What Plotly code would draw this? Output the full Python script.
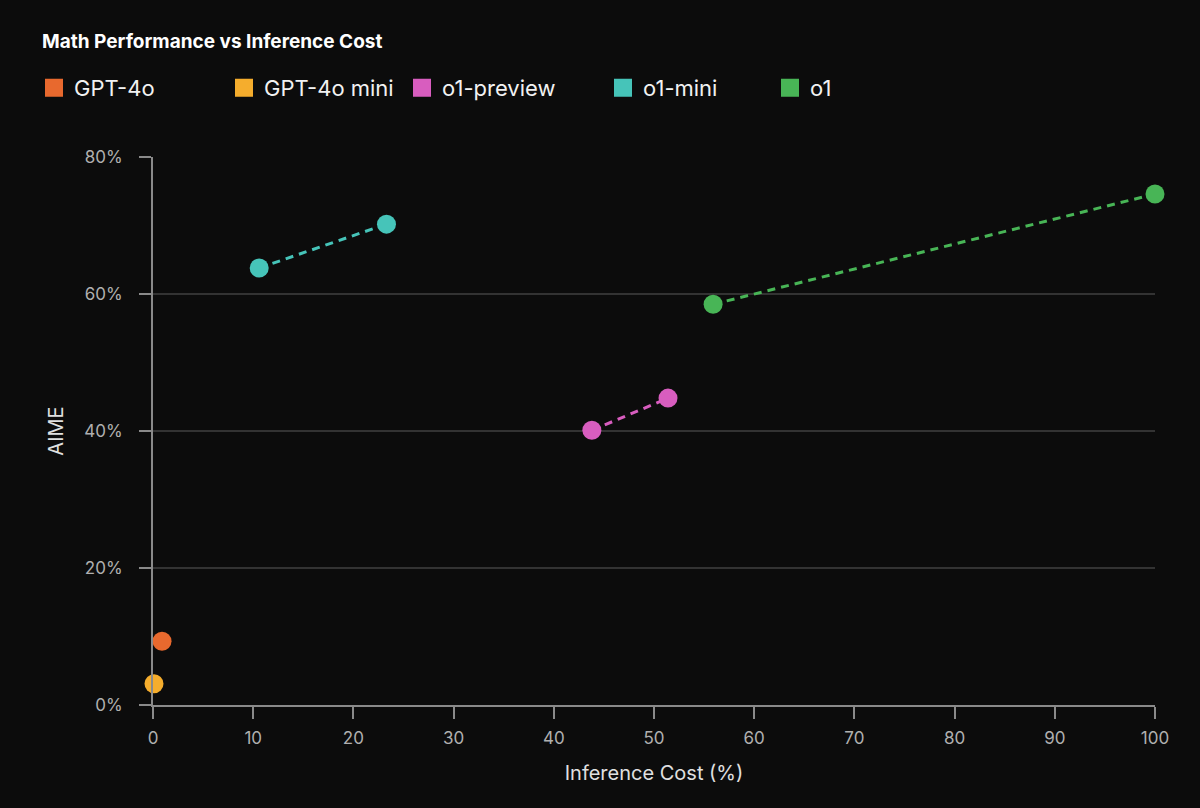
import plotly.graph_objects as go

# Inference cost (%) and AIME score (%) per model
models = ["GPT-4o", "GPT-4o mini", "o1-preview", "o1-mini", "o1"]
colors = ["#E8692E", "#F5AD2D", "#D85DBF", "#46C4B9", "#48B556"]
cost = [[0.9], [0.1], [43.8, 51.4], [10.6, 23.3], [55.9, 100]]
aime = [[9.3], [3.1], [40.1, 44.8], [63.8, 70.2], [58.5, 74.6]]

W, H = 1200, 808
legend_px = [34, 224, 402, 603, 770]  # left edge of each legend entry, in px


def legend_key(i):
    return "legend" if i == 0 else "legend%d" % (i + 1)


fig = go.Figure()

for i, name in enumerate(models):
    fig.add_trace(go.Scatter(
        x=cost[i], y=aime[i], name=name,
        mode="lines+markers",
        line=dict(color=colors[i], width=3, dash="8px,6px"),
        marker=dict(color=colors[i], size=19),
        cliponaxis=False,
        showlegend=False,
    ))
    # square swatch for the legend
    fig.add_trace(go.Scatter(
        x=[None], y=[None], name=name, mode="markers",
        marker=dict(color=colors[i], size=18, symbol="square",
                    line=dict(color=colors[i], width=2)),
        legend=legend_key(i),
    ))

legends = {}
for i in range(len(models)):
    legends[legend_key(i)] = dict(
        x=legend_px[i] / W, y=1 - 88 / H, xref="container", yref="container",
        xanchor="left", yanchor="middle",
        font=dict(size=22, color="#f2f2f2"),
        bgcolor="rgba(0,0,0,0)", itemwidth=30,
        orientation="h",
    )

fig.update_layout(
    width=W, height=H,
    paper_bgcolor="#0c0c0c", plot_bgcolor="#0c0c0c",
    font=dict(family="Inter, Liberation Sans, sans-serif", color="#f2f2f2"),
    title=dict(text="<b>Math Performance vs Inference Cost</b>",
               x=42 / W, y=1 - 41 / H, xref="container", yref="container",
               xanchor="left", yanchor="middle",
               font=dict(size=19, color="#ffffff")),
    margin=dict(l=153, r=45, t=157, b=103),
    **legends,
)

fig.update_xaxes(
    range=[0, 100], dtick=10, tick0=0,
    showgrid=False, zeroline=False,
    showline=True, linecolor="#8a8a8a", linewidth=2,
    ticks="outside", ticklen=12, tickwidth=2, tickcolor="#8a8a8a",
    ticklabelstandoff=5,
    tickfont=dict(size=17, color="#b0b0b0"),
    title=dict(text="Inference Cost (%)", font=dict(size=20, color="#e0e0e0"), standoff=19),
)
fig.update_yaxes(
    range=[0, 80], dtick=20, tick0=0, ticksuffix="%",
    showgrid=True, gridcolor="#333333", gridwidth=1.5, zeroline=False,
    showline=True, linecolor="#8a8a8a", linewidth=2,
    ticks="outside", ticklen=12, tickwidth=2, tickcolor="#8a8a8a",
    ticklabelstandoff=13,
    tickfont=dict(size=17, color="#b0b0b0"),
    title=dict(text="AIME", font=dict(size=20, color="#e0e0e0"), standoff=15),
)

# drop the page's default body margin so the figure sits at the window corner
fig.write_html("out.html", config={"displayModeBar": False},
               post_script="document.body.style.margin='0';")
